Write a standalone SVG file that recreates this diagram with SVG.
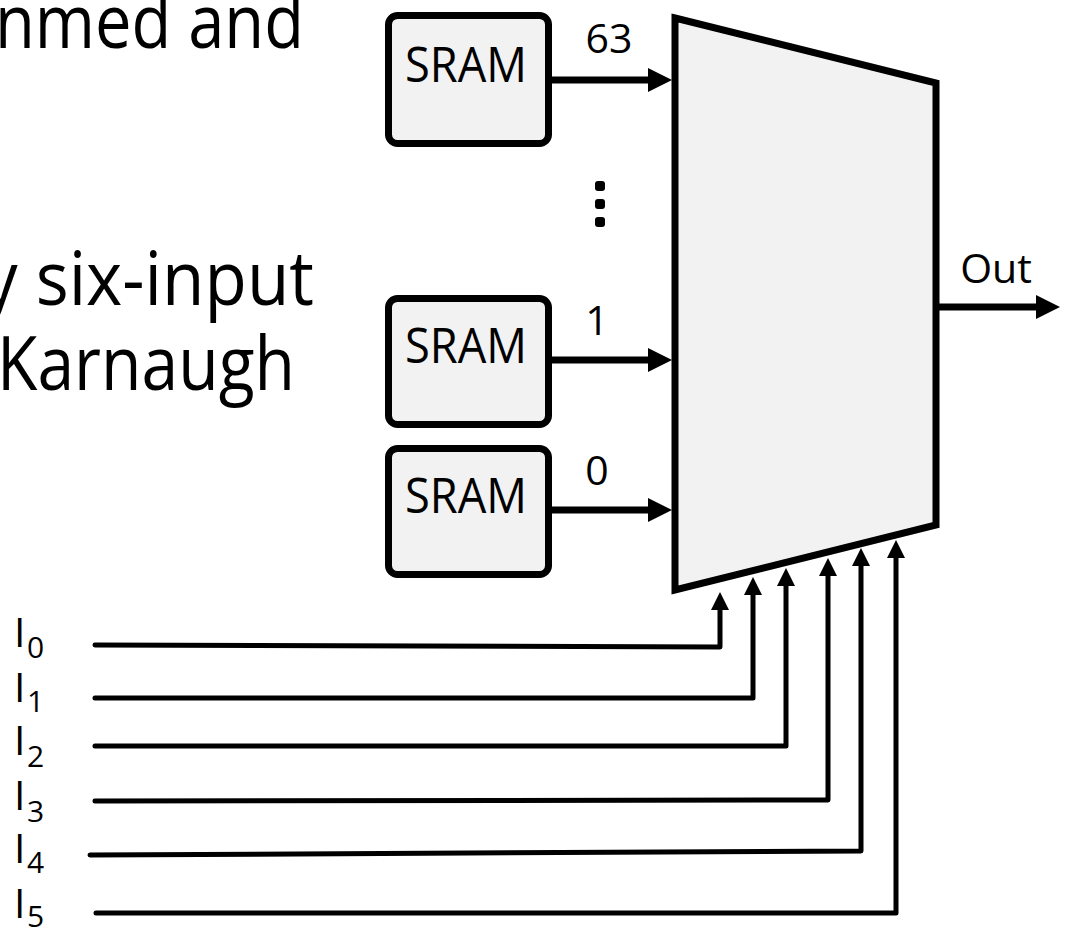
<svg xmlns="http://www.w3.org/2000/svg" width="1067" height="930" viewBox="0 0 1067 930">
  <style>
    .txt { font-family: "Open Sans", "Liberation Sans", sans-serif; fill: #000; }
    .big { font-size: 75px; }
    .box { fill: #F2F2F2; stroke: #000; stroke-width: 7; }
    .lbl { font-size: 49px; }
    .num { font-size: 41px; }
    .wire { fill: none; stroke: #000; stroke-width: 7; }
    .inwire { fill: none; stroke: #000; stroke-width: 5; stroke-linecap: round; stroke-linejoin: round; }
    .inl { font-size: 41px; }
    .sub { font-size: 30px; }
  </style>
  <defs>
    <marker id="ahBig" markerUnits="userSpaceOnUse" viewBox="0 0 24 24" refX="2" refY="12" markerWidth="24" markerHeight="24" orient="auto">
      <path d="M0,0 L24,12 L0,24 z" fill="#000"/>
    </marker>
    <marker id="ahSmall" markerUnits="userSpaceOnUse" viewBox="0 0 18 18" refX="2" refY="9" markerWidth="18" markerHeight="18" orient="auto">
      <path d="M0,0 L18,9 L0,18 z" fill="#000"/>
    </marker>
  </defs>

  <g id="side-text">
    <text class="txt big" x="-5" y="48" textLength="309" lengthAdjust="spacingAndGlyphs">nmed and</text>
    <text class="txt big" x="-17" y="305" textLength="331" lengthAdjust="spacingAndGlyphs">y six-input</text>
    <text class="txt big" x="-3" y="390" textLength="298" lengthAdjust="spacingAndGlyphs">Karnaugh</text>
  </g>

  <g id="connectors">
    <line class="wire" x1="552" y1="80" x2="650" y2="80" marker-end="url(#ahBig)"/>
    <line class="wire" x1="552" y1="360" x2="650" y2="360" marker-end="url(#ahBig)"/>
    <line class="wire" x1="552" y1="510" x2="650" y2="510" marker-end="url(#ahBig)"/>
    <line class="wire" x1="936" y1="307" x2="1038" y2="307" marker-end="url(#ahBig)"/>
    <path class="inwire" d="M95,645 L720,647 L720,608" marker-end="url(#ahSmall)"/>
    <path class="inwire" d="M95,698 L753,698 L753,593" marker-end="url(#ahSmall)"/>
    <path class="inwire" d="M95,746 L786,746 L786,584" marker-end="url(#ahSmall)"/>
    <path class="inwire" d="M95,801 L828,800 L828,574" marker-end="url(#ahSmall)"/>
    <path class="inwire" d="M90,855 L861,851 L861,564" marker-end="url(#ahSmall)"/>
    <path class="inwire" d="M96,913 L896,913 L896,556" marker-end="url(#ahSmall)"/>
  </g>

  <g id="mux">
    <polygon class="box" points="675,18 936,83 936,525 675,590" stroke-linejoin="miter"/>
  </g>

  <g id="sram63">
    <rect class="box" x="388.5" y="15.5" width="160" height="128" rx="9"/>
    <text class="txt lbl" x="466" y="82" text-anchor="middle" textLength="122" lengthAdjust="spacingAndGlyphs">SRAM</text>
    <text class="txt num" x="609" y="53" text-anchor="middle">63</text>
  </g>
  <g id="sram1">
    <rect class="box" x="388.5" y="298.5" width="160" height="126" rx="9"/>
    <text class="txt lbl" x="466" y="363" text-anchor="middle" textLength="122" lengthAdjust="spacingAndGlyphs">SRAM</text>
    <text class="txt num" x="597" y="335" text-anchor="middle">1</text>
  </g>
  <g id="sram0">
    <rect class="box" x="388.5" y="448.5" width="160" height="126" rx="9"/>
    <text class="txt lbl" x="466" y="513" text-anchor="middle" textLength="122" lengthAdjust="spacingAndGlyphs">SRAM</text>
    <text class="txt num" x="597" y="485" text-anchor="middle">0</text>
  </g>

  <g id="ellipsis">
    <rect x="595" y="181" width="10" height="10" rx="3" fill="#000"/>
    <rect x="595" y="199" width="10" height="10" rx="3" fill="#000"/>
    <rect x="595" y="217" width="10" height="10" rx="3" fill="#000"/>
  </g>

  <g id="out-label">
    <text class="txt num" x="996" y="283" text-anchor="middle">Out</text>
  </g>

  <g id="input-labels">
    <text class="txt inl" x="14" y="647">I<tspan class="sub" x="27" y="658">0</tspan></text>
    <text class="txt inl" x="14" y="702">I<tspan class="sub" x="27" y="712">1</tspan></text>
    <text class="txt inl" x="14" y="755">I<tspan class="sub" x="27" y="767">2</tspan></text>
    <text class="txt inl" x="14" y="810">I<tspan class="sub" x="27" y="822">3</tspan></text>
    <text class="txt inl" x="14" y="863">I<tspan class="sub" x="27" y="873">4</tspan></text>
    <text class="txt inl" x="14" y="918">I<tspan class="sub" x="27" y="927">5</tspan></text>
  </g>
</svg>
